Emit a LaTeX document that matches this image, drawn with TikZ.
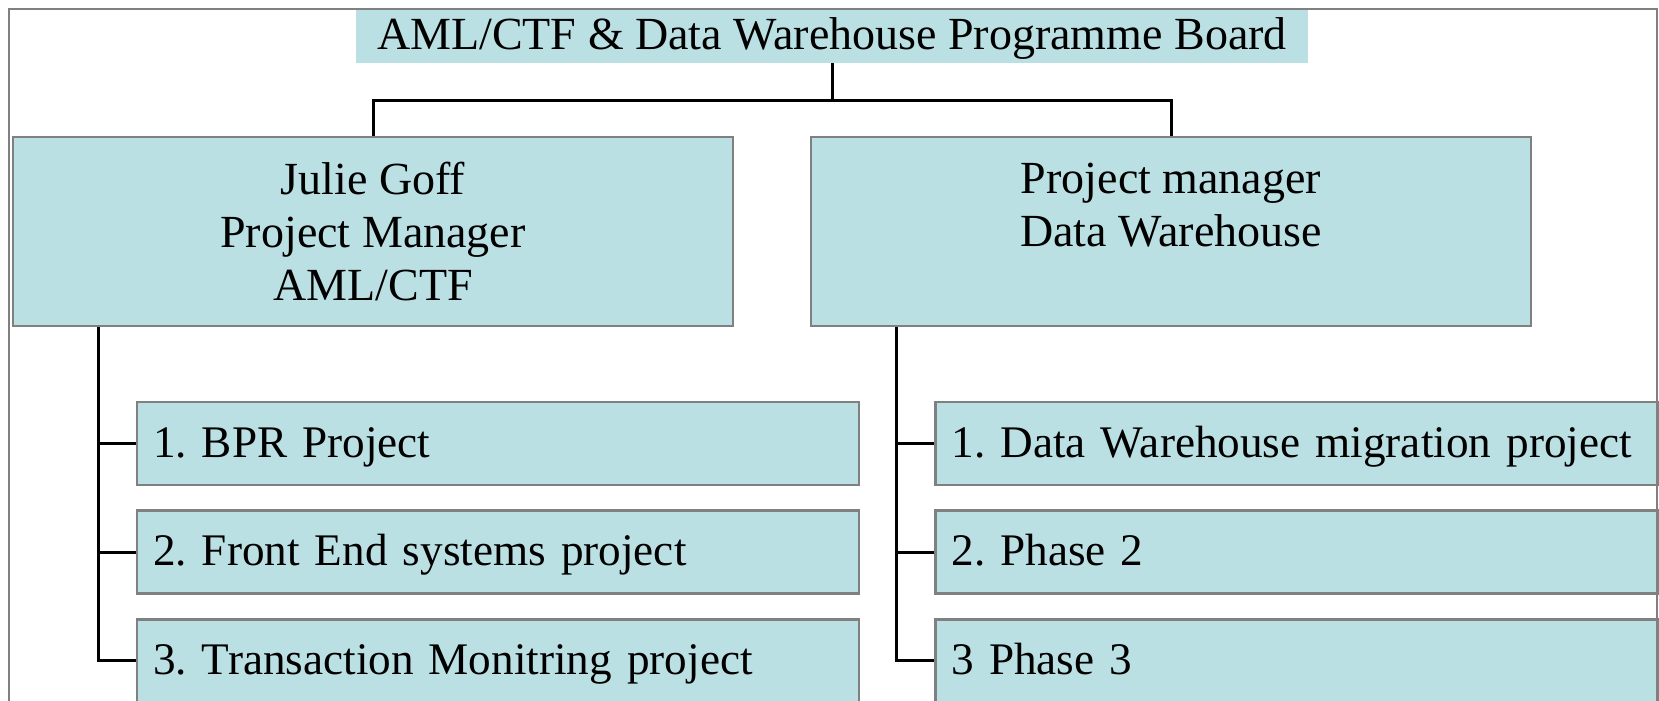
\documentclass[tikz,border=0pt]{standalone}
\usepackage{fontspec}
\setmainfont{Liberation Serif}
\usetikzlibrary{positioning, calc}

\definecolor{boxfill}{RGB}{187,224,227}
\definecolor{boxline}{RGB}{128,128,128}

\begin{document}
\frenchspacing
\begin{tikzpicture}[
    x=0.5pt, y=-0.5pt,
    node distance=11.5pt,
    font=\fontsize{23}{26.5}\selectfont,
    board/.style={rectangle, fill=boxfill, minimum width=476pt, minimum height=26.5pt, inner sep=0pt, text height=18pt, text depth=4.5pt},
    manager/.style={rectangle, draw=boxline, line width=1.35pt, fill=boxfill, minimum width=360pt, minimum height=94.5pt, align=center},
    project/.style={rectangle, draw=boxline, line width=1.35pt, fill=boxfill, minimum width=361pt, minimum height=41.5pt, text width=345pt, inner xsep=8pt, align=left, text height=18pt, text depth=4.5pt, font=\fontsize{22.6}{26}\selectfont},
    link/.style={line width=1.5pt},
]
\useasboundingbox (0,0) rectangle (1659,701);
\clip (0,0) rectangle (1659,701);

% outer frame, open at the bottom of the page
\draw[boxline, line width=1.35pt] (9,9) rectangle (1657,740);

\node[board] (board) at (832,36.5) {AML/CTF \& Data Warehouse Programme Board};

\node[manager] (pmAml) at (373,231.5) {Julie Goff\\Project Manager\\AML/CTF};
\node[manager] (pmDw) at (1171,231.5) {Project manager\\Data Warehouse\\\vphantom{AML/CTF}};

% projects under each manager
\node[project] (aml1) at (498,443.5) {1. BPR Project};
\node[project] (aml2) [below=of aml1] {2. Front End systems project};
\node[project] (aml3) [below=of aml2] {3. Transaction Monitring project};

\node[project] (dw1) at (1296.5,443.5) {1. Data Warehouse migration project};
\node[project] (dw2) [below=of dw1] {2. Phase 2};
\node[project] (dw3) [below=of dw2] {3 Phase 3};

\draw[link] (board.south) -- ++(0,37) -| (pmAml.north);
\draw[link] (board.south) -- ++(0,37) -| (pmDw.north);

\draw[link] ($(pmAml.south west)+(87,0)$) |- (aml1.west);
\draw[link] ($(pmAml.south west)+(87,0)$) |- (aml2.west);
\draw[link] ($(pmAml.south west)+(87,0)$) |- (aml3.west);

\draw[link] ($(pmDw.south west)+(87,0)$) |- (dw1.west);
\draw[link] ($(pmDw.south west)+(87,0)$) |- (dw2.west);
\draw[link] ($(pmDw.south west)+(87,0)$) |- (dw3.west);

\end{tikzpicture}
\end{document}
